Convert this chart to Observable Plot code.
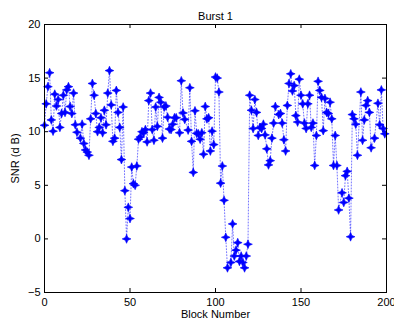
<!DOCTYPE html>
<html>
<head>
<meta charset="utf-8">
<script src="https://cdn.jsdelivr.net/npm/d3@7"></script>
<script src="https://cdn.jsdelivr.net/npm/@observablehq/plot@0.6"></script>
<style>
  html, body { margin: 0; padding: 0; background: #fff; overflow: hidden; }
</style>
</head>
<body>
<div id="chart"></div>
<script>
const title = "Burst 1";
const xLabel = "Block Number";
const yLabel = "SNR (d B)";
const xTicks = [0, 50, 100, 150, 200];
const yTicks = [-5, 0, 5, 10, 15, 20];

const blocks = [
  0,1,2,3,4,5,6,7,8,9,10,11,12,13,14,15,16,17,18,19,
  21,22,23,24,25,26,27,28,29,30,31,32,33,34,35,36,37,38,39,40,
  41,42,43,44,45,46,47,48,49,50,51,52,53,54,55,56,57,58,59,60,
  61,62,63,64,65,66,67,68,69,70,71,72,73,74,75,76,77,79,80,81,
  82,84,85,86,87,88,89,90,91,92,93,94,95,96,97,98,99,100,101,102,
  103,104,105,106,107,109,110,111,112,113,114,115,116,117,118,119,120,121,122,123,
  124,125,126,127,128,129,130,131,132,133,134,135,137,138,139,140,141,142,143,144,
  145,146,147,148,149,150,151,152,153,154,155,156,157,158,159,160,161,162,163,164,
  165,166,167,168,169,170,171,172,174,175,176,177,178,179,180,181,182,183,185,186,
  187,188,189,190,191,193,195,196,197,198,199,200
];
const snr = [
  10.6,12.6,14.2,15.5,11.1,10.05,13.5,12.4,13.0,10.4,11.7,13.4,11.8,13.9,14.2,12.35,11.7,13.6,10.65,9.95,
  9.4,10.7,8.9,8.3,8.1,7.8,11.2,14.5,13.4,11.7,10.0,10.4,11.3,9.9,12.0,10.65,13.6,15.7,12.5,9.1,
  9.4,13.85,11.8,10.4,7.4,12.3,4.5,0.0,2.95,1.9,6.7,5.15,5.0,6.8,9.3,9.5,10.0,9.9,10.2,9.05,
  12.9,13.6,10.2,9.2,12.3,10.5,13.2,12.75,9.4,12.3,12.4,11.35,10.25,10.2,10.7,11.3,11.3,9.9,14.75,11.75,
  11.15,10.15,14.1,9.1,6.2,11.95,9.85,9.8,9.3,9.9,7.9,12.35,11.2,11.3,8.2,10.05,8.8,15.1,15.0,13.7,
  5.2,6.8,3.6,0.15,-2.7,-2.2,1.4,-1.6,-1.05,-0.35,-2.1,-1.6,-2.2,-2.7,-1.6,-0.5,13.4,12.0,10.3,13.0,
  11.8,9.65,10.4,10.3,10.7,9.7,8.4,6.9,7.3,9.4,10.8,12.35,11.6,11.7,10.8,9.25,8.2,12.45,14.5,15.4,
  13.8,14.3,11.5,10.9,14.9,13.4,12.6,10.8,10.3,12.6,13.4,10.4,10.8,6.85,9.65,14.7,13.85,13.2,10.1,13.1,
  11.8,11.7,12.75,11.2,6.85,9.65,6.85,2.7,4.3,3.4,5.9,6.3,3.8,0.2,11.6,11.2,10.7,7.8,13.7,9.2,
  11.1,12.45,12.9,11.8,8.5,9.4,12.65,10.65,13.9,10.3,9.8
];

const data = blocks.map((b, i) => ({block: b, snr: snr[i]}));

// MATLAB-like 4-point star marker
const star4 = {
  draw(context, size) {
    const R = Math.sqrt(size / Math.PI);
    const a = R * 0.3;
    context.moveTo(0, -R);
    context.lineTo(a, -a);
    context.lineTo(R, 0);
    context.lineTo(a, a);
    context.lineTo(0, R);
    context.lineTo(-a, a);
    context.lineTo(-R, 0);
    context.lineTo(-a, -a);
    context.closePath();
  }
};

const W = 394, H = 324;
const mL = 44, mR = 8, mT = 24, mB = 32;
const innerH = H - mT - mB;
const innerW = W - mL - mR;
const tick = 4;

const chart = Plot.plot({
  width: W,
  height: H,
  marginLeft: mL,
  marginRight: mR,
  marginTop: mT,
  marginBottom: mB,
  style: {fontFamily: "'Liberation Sans', Arial, Helvetica, sans-serif", fontSize: "11px", color: "#000", background: "#fff", overflow: "visible"},
  x: {domain: [0, 200]},
  y: {domain: [-5, 20]},
  marks: [
    Plot.axisX(xTicks, {anchor: "bottom", tickSize: 0, tickPadding: 6, label: xLabel, labelAnchor: "center", labelOffset: 25, labelArrow: "none"}),
    Plot.axisY(yTicks, {anchor: "left", tickSize: 0, tickPadding: 4, label: yLabel, labelAnchor: "center", labelOffset: 33, labelArrow: "none"}),
    Plot.tickX(xTicks, {x: d => d, insetTop: innerH - tick, stroke: "black"}),
    Plot.tickX(xTicks, {x: d => d, insetBottom: innerH - tick, stroke: "black"}),
    Plot.tickY(yTicks, {y: d => d, insetRight: innerW - tick, stroke: "black"}),
    Plot.tickY(yTicks, {y: d => d, insetLeft: innerW - tick, stroke: "black"}),
    Plot.line(data, {x: "block", y: "snr", stroke: "#0000ff", strokeOpacity: 0.55, strokeWidth: 1, strokeDasharray: "1,2"}),
    Plot.dot(data, {x: "block", y: "snr", symbol: star4, r: 4.4, fill: "#0000ff", stroke: "#0000ff", strokeWidth: 0.6}),
    Plot.frame({stroke: "black", strokeWidth: 1}),
    Plot.text([title], {frameAnchor: "top", dy: -12, fontSize: 11, fill: "black"})
  ]
});

document.getElementById("chart").appendChild(chart);
</script>
</body>
</html>
